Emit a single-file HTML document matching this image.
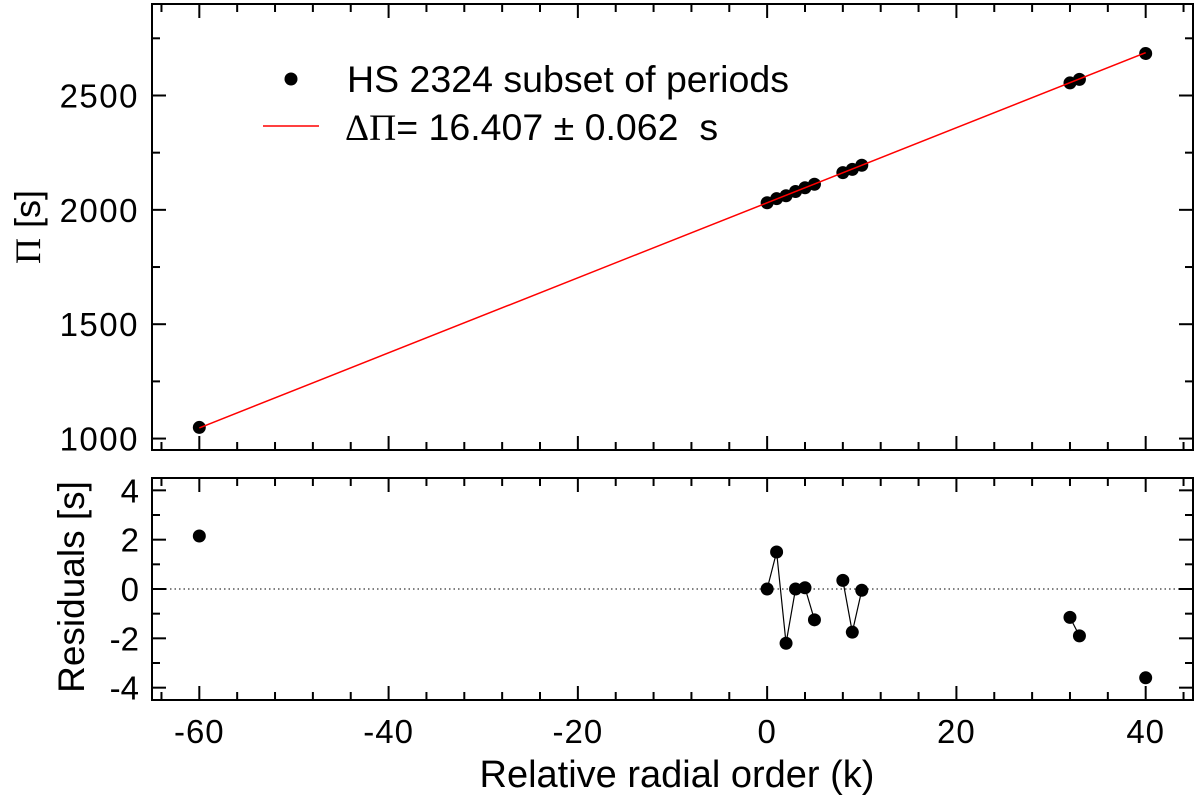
<!DOCTYPE html>
<html><head><meta charset="utf-8"><style>
body{margin:0;background:#fff}
svg{display:block}
text{font-family:"Liberation Sans",Helvetica,sans-serif;fill:#000}
</style></head><body>
<svg id="c" width="1200" height="798" xmlns="http://www.w3.org/2000/svg"></svg>
<script>
const kValues=[-60,0,1,2,3,4,5,8,9,10,32,33,40];
const residuals=[2.15,0,1.5,-2.2,0,0.05,-1.25,0.35,-1.75,-0.05,-1.15,-1.9,-3.6];
const residualGroups=[[1,2,3,4,5,6],[7,8,9],[10,11]];
const fitIntercept=2031;
const fitSlope=16.407;
const xTicks=[-60,-40,-20,0,20,40];
const yTopTicks=[1000,1500,2000,2500];
const yBotTicks=[-4,-2,0,2,4];

const NS="http://www.w3.org/2000/svg";
const svg=document.getElementById('c');
function el(t,a,p){const e=document.createElementNS(NS,t);for(const k in a)e.setAttribute(k,a[k]);(p||svg).appendChild(e);return e;}
const L=152,R=1193;
const x=v=>L+(v+65)/110*(R-L);
const T1=4,B1=450,T2=478,B2=700;
const yT=v=>B1-(v-950)/1950*(B1-T1);
const yB=v=>B2-(v+4.5)/9*(B2-T2);
const FS=33;

function frame(top,bot,name){
  const r=el('rect',{x:L,y:top,width:R-L,height:bot-top,fill:'none',stroke:'#000','stroke-width':2});
  
  
  for(let v=-64;v<=44;v+=4){
    const maj=xTicks.includes(v);const len=maj?14:8;
    el('line',{x1:x(v),x2:x(v),y1:bot,y2:bot-len,stroke:'#000','stroke-width':2});
    el('line',{x1:x(v),x2:x(v),y1:top,y2:top+len,stroke:'#000','stroke-width':2});
  }
}
frame(T1,B1,'top-panel-frame');
frame(T2,B2,'bottom-panel-frame');
for(let v=1000;v<=2750;v+=250){const maj=v%500===0;const len=maj?14:8;
  el('line',{x1:L,x2:L+len,y1:yT(v),y2:yT(v),stroke:'#000','stroke-width':2});
  el('line',{x1:R,x2:R-len,y1:yT(v),y2:yT(v),stroke:'#000','stroke-width':2});}
yTopTicks.forEach(v=>{const t=el('text',{x:L-13,y:yT(v)+12,'text-anchor':'end','font-size':FS,'letter-spacing':1.5});t.textContent=v;
  
  });
for(let v=-4;v<=4;v++){const maj=v%2===0;const len=maj?14:8;
  el('line',{x1:L,x2:L+len,y1:yB(v),y2:yB(v),stroke:'#000','stroke-width':2});
  el('line',{x1:R,x2:R-len,y1:yB(v),y2:yB(v),stroke:'#000','stroke-width':2});}
yBotTicks.forEach(v=>{const t=el('text',{x:L-13,y:yB(v)+12,'text-anchor':'end','font-size':FS});t.textContent=v;
  
  });
xTicks.forEach(v=>{const t=el('text',{x:x(v),y:743,'text-anchor':'middle','font-size':FS,'letter-spacing':1});t.textContent=v;
  
  });
let t=el('text',{x:677,y:787,'text-anchor':'middle','font-size':38});t.textContent='Relative radial order (k)';


t=el('text',{x:0,y:0,'text-anchor':'middle','font-size':36,transform:'translate(40,227) rotate(-90)'});
t.innerHTML='<tspan font-family="Liberation Serif,serif">Π</tspan> [s]';


t=el('text',{x:0,y:0,'text-anchor':'middle','font-size':37,transform:'translate(84,587) rotate(-90)'});
t.textContent='Residuals [s]';


el('line',{x1:L,x2:R,y1:yB(0),y2:yB(0),stroke:'#000','stroke-width':1,'stroke-dasharray':'1.5,3'});
kValues.forEach((k,i)=>{const c=el('circle',{cx:x(k),cy:yT(fitIntercept+fitSlope*k+residuals[i]),r:6.5,fill:'#000'});
  
  });
const fl=el('line',{x1:x(-60),y1:yT(fitIntercept-60*fitSlope),x2:x(40),y2:yT(fitIntercept+40*fitSlope),stroke:'#f00','stroke-width':1.5});


residualGroups.forEach(g=>{const p=el('polyline',{points:g.map(i=>x(kValues[i])+','+yB(residuals[i])).join(' '),fill:'none',stroke:'#000','stroke-width':1.2});
  
  });
kValues.forEach((k,i)=>{const c=el('circle',{cx:x(k),cy:yB(residuals[i]),r:6.5,fill:'#000'});
  
  });
const g=el('g',{});


el('circle',{cx:291,cy:79,r:6.5,fill:'#000'},g);
t=el('text',{x:347,y:92,'font-size':37.5},g);t.textContent='HS 2324 subset of periods';
el('line',{x1:263,x2:319,y1:126,y2:126,stroke:'#f00','stroke-width':1.5},g);
t=el('text',{x:345,y:140,'font-size':37.5},g);
t.innerHTML='<tspan font-family="Liberation Serif,serif">ΔΠ</tspan>= 16.407 ± 0.062 \u00a0s';
</script>
</body></html>
